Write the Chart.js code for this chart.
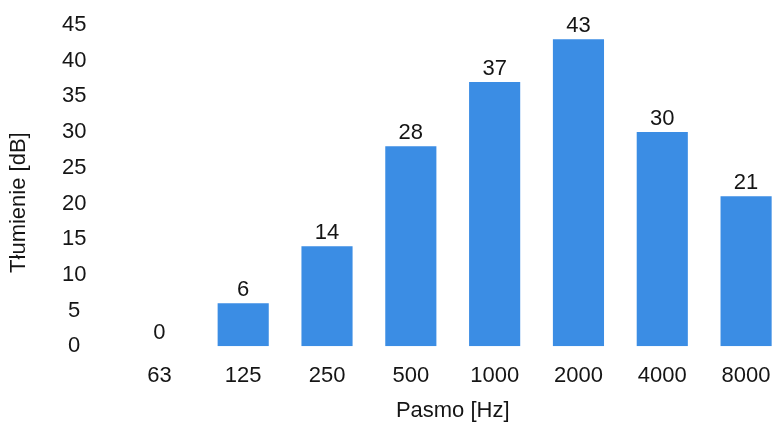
<!DOCTYPE html>
<html>
<head>
<meta charset="utf-8">
<script src="https://cdn.jsdelivr.net/npm/chart.js@4"></script>
<style>
  html, body { margin: 0; padding: 0; background: #fff; overflow: hidden; }
  #wrap { width: 790px; height: 425px; }
</style>
</head>
<body>
<div id="wrap"><canvas id="bar-chartcanvas"></canvas></div>
<script>
// pasma oktawowe i tłumienie
let pasma = ["63", "125", "250", "500", "1000", "2000", "4000", "8000"];
let tlumienie = [0, 6, 14, 28, 37, 43, 30, 21];
let yTicks = [0, 5, 10, 15, 20, 25, 30, 35, 40, 45];
let yTitle = "Tłumienie [dB]";

let fontFam = "'Liberation Sans', Arial, sans-serif";
let fontSize = 22;
let txtColor = "#151515";

// etykiety wartości nad słupkami
let valueLabels = {
  id: "valueLabels",
  afterDatasetsDraw: function(chart){
    let ctx = chart.ctx;
    let meta = chart.getDatasetMeta(0);
    ctx.save();
    ctx.font = fontSize + "px " + fontFam;
    ctx.fillStyle = txtColor;
    ctx.textAlign = "center";
    ctx.textBaseline = "bottom";
    meta.data.forEach(function(bar, i){
      ctx.fillText(chart.data.datasets[0].data[i], bar.x, bar.y - 2);
    });
    ctx.restore();
  }
};

// tytuł osi Y trochę poniżej środka, jak w oryginale
let yAxisTitle = {
  id: "yAxisTitle",
  afterDraw: function(chart){
    let ctx = chart.ctx;
    let area = chart.chartArea;
    ctx.save();
    ctx.translate(19, (area.top + area.bottom) / 2 + 17);
    ctx.rotate(-Math.PI / 2);
    ctx.font = fontSize + "px " + fontFam;
    ctx.fillStyle = txtColor;
    ctx.textAlign = "center";
    ctx.textBaseline = "middle";
    ctx.fillText(yTitle, 0, 0);
    ctx.restore();
  }
};

let ctx = document.getElementById("bar-chartcanvas");
let dataChart = {
  labels: pasma,
  datasets: [
    {
      label: "Tłumienie",
      data: tlumienie,
      backgroundColor: "#3b8de4",
      borderWidth: 0,
      barPercentage: 0.61,
      categoryPercentage: 1.0
    }
  ]
};
let options = {
  responsive: true,
  maintainAspectRatio: false,
  animation: false,
  layout: { padding: { left: 31, right: 2, top: 25, bottom: 1 } },
  plugins: {
    legend: { display: false },
    tooltip: { enabled: false }
  },
  scales: {
    x: {
      grid: { display: false, drawTicks: false },
      border: { display: false },
      ticks: { color: txtColor, font: { family: fontFam, size: fontSize }, padding: 17 },
      title: {
        display: true,
        text: "Pasmo [Hz]",
        color: txtColor,
        font: { family: fontFam, size: fontSize },
        padding: { top: -9, bottom: 0 }
      }
    },
    y: {
      min: 0,
      max: 45,
      afterBuildTicks: function(axis){
        axis.ticks = yTicks.map(function(v){ return { value: v }; });
      },
      // padding etykiet nie powinien odsuwać osi od góry
      afterFit: function(axis){
        axis.paddingTop = 0;
        axis.paddingBottom = 0;
      },
      grid: { display: false, drawTicks: false },
      border: { display: false },
      ticks: {
        color: txtColor,
        font: { family: fontFam, size: fontSize },
        padding: 31,
        crossAlign: "center"
      },
      title: { display: false }
    }
  }
};
let chart = new Chart(ctx, {
  type: "bar",
  data: dataChart,
  options: options,
  plugins: [valueLabels, yAxisTitle]
});
</script>
</body>
</html>
